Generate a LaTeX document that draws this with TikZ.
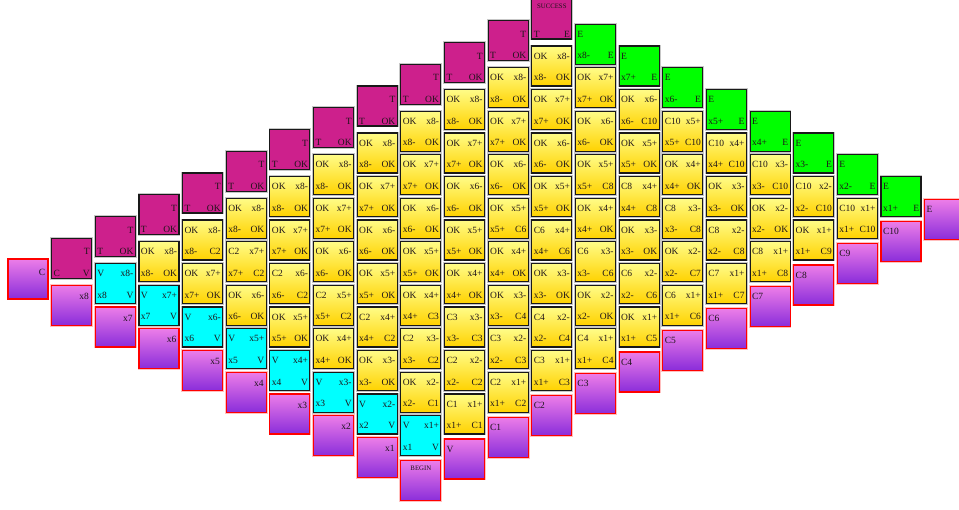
\documentclass[tikz,border=0pt]{standalone}
\usepackage{fontspec}
\setmainfont{Liberation Serif}
\definecolor{mag}{RGB}{205,32,140}
\definecolor{grn}{RGB}{0,255,0}
\definecolor{cyn}{RGB}{0,255,255}
\definecolor{ytop}{RGB}{255,252,135}
\definecolor{ybot}{RGB}{255,210,0}
\definecolor{ptop}{RGB}{236,125,232}
\definecolor{pbot}{RGB}{138,45,218}
\definecolor{txt}{RGB}{30,20,25}
\newcommand\xsgn[1]{\ifcase#1 x8-\or x7+\or x6-\or x5+\or x4+\or x3-\or x2-\or x1+\fi}
\newcommand\xbare[1]{\ifcase#1 x8\or x7\or x6\or x5\or x4\or x3\or x2\or x1\fi}
\newcommand\gpos[2]{\pgfmathsetmacro\tx{8+43.65*(#1)}\pgfmathsetmacro\ty{46+21.75*(12-(#1)+2*(#2))}}
\newcommand\labTL[2]{\node[lab,anchor=west] (#1tl) at (\tx+1.8,\ty+10) {#2};}
\newcommand\labTR[2]{\node[lab,anchor=east] (#1tr) at (\tx+38.3,\ty+10) {#2};}
\newcommand\labBL[2]{\node[lab,anchor=west] (#1bl) at (\tx+1.8,\ty+31.5) {#2};}
\newcommand\labBR[2]{\node[lab,anchor=east] (#1br) at (\tx+38.3,\ty+31.5) {#2};}
\begin{document}
\begin{tikzpicture}[x=1pt,y=-1pt,
  tile/.style={minimum width=40pt,minimum height=40pt,inner sep=0pt,outer sep=0pt,anchor=north west,line width=1.1pt,draw=black!90,preaction={draw=black!22,line width=2.8pt}},
  yel/.style={tile,top color=ytop,bottom color=ybot},
  cyb/.style={tile,fill=cyn},
  grb/.style={tile,fill=grn},
  mgb/.style={tile,fill=mag,yshift=3.5pt},
  ppl/.style={tile,draw=red,top color=ptop,bottom color=pbot,preaction={draw=red!25,line width=2.8pt}},
  ppr/.style={ppl,yshift=-1.5pt},
  ppt/.style={ppl,yshift=4.5pt},
  lab/.style={inner sep=0pt,font=\fontsize{9.5}{10}\selectfont,text=txt},
  sml/.style={inner sep=0pt,font=\fontsize{6.8}{7}\selectfont,text=txt}]
\useasboundingbox (0,0) rectangle (959,510);
% top row
\gpos{0}{-1}
\node[ppt] (top0) at (\tx,\ty) {};
\node[lab,anchor=east] (top0tr) at (\tx+37.5,\ty+8.5) {C};
\gpos{1}{-1}
\node[mgb] (top1) at (\tx,\ty) {};
\labTR{top1}{T}\labBL{top1}{C}\labBR{top1}{V}
\foreach \c in {2,...,11}{
  \gpos{\c}{-1}
  \node[mgb] (top\c) at (\tx,\ty) {};
  \labTR{top\c}{T}\labBL{top\c}{T}\labBR{top\c}{OK}
}
\gpos{12}{-1}
\node[mgb] (top12) at (\tx,\ty) {};
\node[sml] (top12s) at (\tx+20,\ty+4) {SUCCESS};
\labBL{top12}{T}\labBR{top12}{E}
% left purple
\foreach \j in {0,...,7}{
  \pgfmathtruncatemacro\cc{\j+1}
  \gpos{\cc}{\j}
  \node[ppl] (p\cc) at (\tx,\ty) {};
  \node[lab,anchor=east] (p\cc l) at (\tx+37.5,\ty+11) {\xbare{\j}};
}
% cyan
\foreach \j in {0,...,7}{
  \pgfmathtruncatemacro\cc{\j+2}
  \gpos{\cc}{\j}
  \node[cyb] (t\cc-\j) at (\tx,\ty) {};
  \labTL{t\cc-\j}{V}\labTR{t\cc-\j}{\xsgn{\j}}\labBL{t\cc-\j}{\xbare{\j}}\labBR{t\cc-\j}{V}
}
% yellow
\foreach \c/\j/\a/\b in {
 3/0/OK/OK,
 4/0/OK/C2, 4/1/OK/OK,
 5/0/OK/OK, 5/1/C2/C2, 5/2/OK/OK,
 6/0/OK/OK, 6/1/OK/OK, 6/2/C2/C2, 6/3/OK/OK,
 7/0/OK/OK, 7/1/OK/OK, 7/2/OK/OK, 7/3/C2/C2, 7/4/OK/OK,
 8/0/OK/OK, 8/1/OK/OK, 8/2/OK/OK, 8/3/OK/OK, 8/4/C2/C2, 8/5/OK/OK,
 9/0/OK/OK, 9/1/OK/OK, 9/2/OK/OK, 9/3/OK/OK, 9/4/OK/C3, 9/5/C2/C2, 9/6/OK/C1,
 10/0/OK/OK, 10/1/OK/OK, 10/2/OK/OK, 10/3/OK/OK, 10/4/OK/OK, 10/5/C3/C3, 10/6/C2/C2, 10/7/C1/C1,
 11/0/OK/OK, 11/1/OK/OK, 11/2/OK/OK, 11/3/OK/C6, 11/4/OK/OK, 11/5/OK/C4, 11/6/C3/C3, 11/7/C2/C2,
 12/0/OK/OK, 12/1/OK/OK, 12/2/OK/OK, 12/3/OK/OK, 12/4/C6/C6, 12/5/OK/OK, 12/6/C4/C4, 12/7/C3/C3,
 13/1/OK/OK, 13/2/OK/OK, 13/3/OK/C8, 13/4/OK/OK, 13/5/C6/C6, 13/6/OK/OK, 13/7/C4/C4,
 14/2/OK/C10, 14/3/OK/OK, 14/4/C8/C8, 14/5/OK/OK, 14/6/C6/C6, 14/7/OK/C5,
 15/3/C10/C10, 15/4/OK/OK, 15/5/C8/C8, 15/6/OK/C7, 15/7/C6/C6,
 16/4/C10/C10, 16/5/OK/OK, 16/6/C8/C8, 16/7/C7/C7,
 17/5/C10/C10, 17/6/OK/OK, 17/7/C8/C8,
 18/6/C10/C10, 18/7/OK/C9,
 19/7/C10/C10}{
  \gpos{\c}{\j}
  \node[yel] (t\c-\j) at (\tx,\ty) {};
  \labTL{t\c-\j}{\a}\labTR{t\c-\j}{\xsgn{\j}}\labBL{t\c-\j}{\xsgn{\j}}\labBR{t\c-\j}{\b}
}
% green
\foreach \j in {0,...,7}{
  \pgfmathtruncatemacro\cc{\j+13}
  \gpos{\cc}{\j}
  \node[grb] (t\cc-\j) at (\tx,\ty) {};
  \labTL{t\cc-\j}{E}\labBL{t\cc-\j}{\xsgn{\j}}\labBR{t\cc-\j}{E}
}
% bottom-right purple row
\gpos{9}{8}
\node[ppr] (bot9) at (\tx,\ty) {};
\node[sml] (bot9s) at (\tx+20,\ty+9) {BEGIN};
\gpos{10}{8}
\node[ppr] (bot10) at (\tx,\ty) {};
\node[lab,anchor=west] (bot10l) at (\tx+1.8,\ty+11.5) {V};
\foreach \c in {11,...,20}{
  \pgfmathtruncatemacro\k{\c-10}
  \gpos{\c}{8}
  \node[ppr] (bot\c) at (\tx,\ty) {};
  \node[lab,anchor=west] (bot\c l) at (\tx+1.8,\ty+11.5) {C\k};
}
\gpos{21}{8}
\node[ppr] (bot21) at (\tx,\ty) {};
\node[lab,anchor=west] (bot21l) at (\tx+1.8,\ty+11.5) {E};
\end{tikzpicture}
\end{document}
